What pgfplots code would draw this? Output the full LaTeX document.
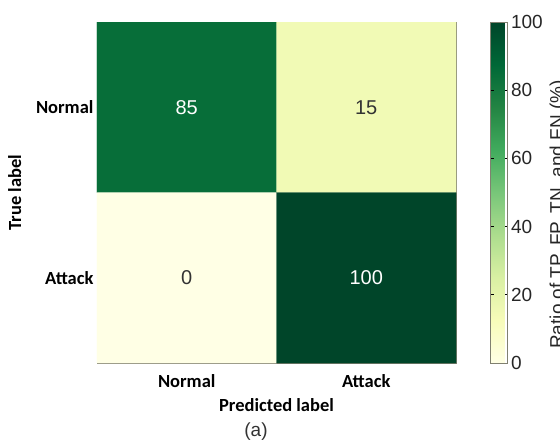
\documentclass[border=0pt]{standalone}
\usepackage{fontspec}
\setmainfont{Liberation Sans}
\newfontfamily\carlito{Carlito}
\usepackage{pgfplots}
\pgfplotsset{compat=1.18}
\definecolor{frame}{RGB}{128,128,112}
\begin{document}
\begin{tikzpicture}
\path[use as bounding box] (0pt,0pt) rectangle (560pt,444pt);
\begin{axis}[
  at={(97pt,81pt)}, anchor=south west,
  scale only axis, width=359pt, height=341pt,
  xmin=-0.5, xmax=1.5, ymin=-0.5, ymax=1.5, y dir=reverse,
  xtick={0,1}, ytick={0,1},
  xticklabels={Normal,Attack}, yticklabels={Normal,Attack},
  tick align=inside, major tick length=3pt, tick style={black, line width=0.6pt},
  xticklabel style={font=\carlito\bfseries\fontsize{18.5}{21}\selectfont, yshift=-8pt},
  yticklabel style={font=\carlito\bfseries\fontsize{18.5}{21}\selectfont},
  xlabel={Predicted label}, ylabel={True label},
  xlabel style={font=\carlito\bfseries\fontsize{18.5}{21}\selectfont, yshift=-4pt},
  ylabel style={font=\carlito\bfseries\fontsize{18.5}{21}\selectfont, yshift=8pt},
  axis line style={draw=frame, line width=0.8pt},
  colormap={ylgn}{rgb255=(255,255,229) rgb255=(247,252,185) rgb255=(217,240,163) rgb255=(173,221,142) rgb255=(120,198,121) rgb255=(65,171,93) rgb255=(35,132,67) rgb255=(0,104,55) rgb255=(0,69,41)},
  point meta min=0, point meta max=100,
  colorbar,
  colorbar style={
    at={(parent axis.north east)}, anchor=north west, xshift=26pt,
    width=17pt,
    ytick={0,20,40,60,80,100},
    /pgf/number format/assume math mode=true,
    yticklabel style={font=\fontsize{19}{22}\selectfont, black!85},
    ylabel={Ratio of TP, FP, TN, and FN (\%)},
    ylabel style={font=\fontsize{19}{22}\selectfont, black!85, xshift=-22pt},
    axis line style={draw=frame, line width=0.8pt},
    tick align=inside, major tick length=3pt, tick style={black, line width=0.6pt},
  },
]
\addplot[matrix plot*, mesh/cols=2, point meta=explicit] table[meta=c] {
x y c
0 0 85
1 0 15
0 1 0
1 1 100
};
\addplot[only marks, mark=none, point meta=explicit symbolic,
  nodes near coords, nodes near coords align=center,
  nodes near coords style={white, font=\fontsize{20}{24}\selectfont, anchor=center}]
  table[meta=label] {
x y label
0 0 85
1 1 100
};
\addplot[only marks, mark=none, point meta=explicit symbolic,
  nodes near coords, nodes near coords align=center,
  nodes near coords style={black!80, font=\fontsize{20}{24}\selectfont, anchor=center}]
  table[meta=label] {
x y label
1 0 15
0 1 0
};
\end{axis}
\node[font=\fontsize{19}{22}\selectfont, black!80] at (256pt,12pt) {(a)};
\end{tikzpicture}
\end{document}
